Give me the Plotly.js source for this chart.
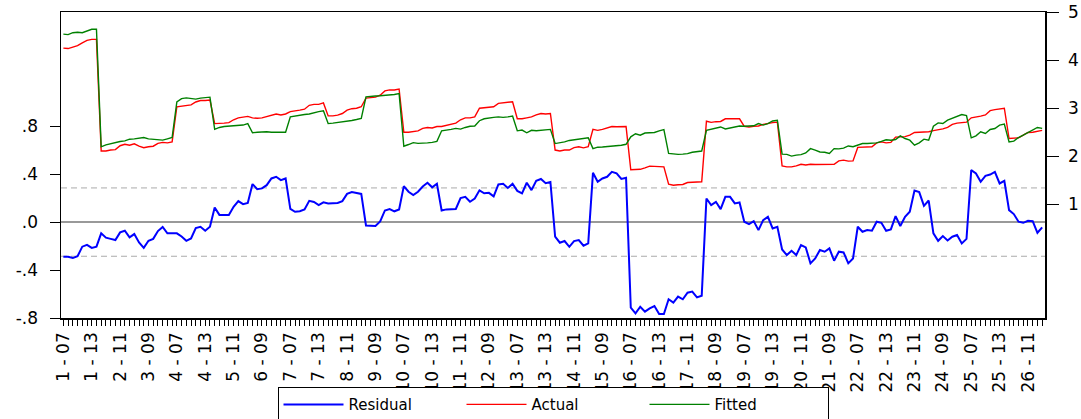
<!DOCTYPE html>
<html>
<head>
<meta charset="utf-8">
<script src="https://cdn.plot.ly/plotly-3.0.1.min.js"></script>
<style>html,body{margin:0;padding:0;background:#fff;}#chart{width:1081px;height:419px;}</style>
</head>
<body>
<div id="chart"></div>
<script>
// Panel: 26 cross-sections x years 2007-2014
const crossSections = [1,2,3,4,5,6,7,8,9,10,11,12,13,14,15,16,17,18,19,20,21,22,23,24,25,26];
const years = ['07','08','09','10','11','12','13','14'];

const tickLabels = ['1 - 07','1 - 13','2 - 11','3 - 09','4 - 07','4 - 13','5 - 11','6 - 09','7 - 07','7 - 13',
  '8 - 11','9 - 09','10 - 07','10 - 13','11 - 11','12 - 09','13 - 07','13 - 13','14 - 11','15 - 09',
  '16 - 07','16 - 13','17 - 11','18 - 09','19 - 07','19 - 13','20 - 11','21 - 09','22 - 07','22 - 13',
  '23 - 11','24 - 09','25 - 07','25 - 13','26 - 11'];

const actual = [
  4.25,4.24,4.27,4.30,4.36,4.41,4.43,4.43,
  2.11,2.11,2.13,2.14,2.22,2.25,2.23,2.26,
  2.21,2.18,2.20,2.21,2.27,2.29,2.28,2.30,
  3.03,3.04,3.05,3.07,3.13,3.16,3.16,3.17,
  2.68,2.68,2.69,2.70,2.76,2.80,2.81,2.83,
  2.80,2.79,2.80,2.83,2.86,2.88,2.86,2.88,
  2.93,2.94,2.96,2.98,3.06,3.08,3.08,3.11,
  2.84,2.84,2.855,2.89,2.96,2.99,3.00,3.03,
  3.21,3.22,3.23,3.27,3.36,3.38,3.38,3.40,
  2.50,2.50,2.51,2.53,2.58,2.60,2.59,2.62,
  2.62,2.64,2.66,2.69,2.76,2.80,2.80,2.82,
  3.00,3.01,3.02,3.03,3.10,3.11,3.12,3.135,
  2.78,2.78,2.80,2.82,2.86,2.89,2.88,2.89,
  2.13,2.11,2.13,2.13,2.18,2.20,2.175,2.20,
  2.56,2.54,2.56,2.585,2.62,2.615,2.61,2.62,
  1.72,1.725,1.73,1.76,1.795,1.79,1.78,1.78,
  1.42,1.40,1.41,1.415,1.455,1.465,1.465,1.47,
  2.73,2.705,2.72,2.725,2.78,2.78,2.77,2.78,
  2.625,2.61,2.625,2.63,2.665,2.69,2.70,2.71,
  1.80,1.78,1.78,1.80,1.835,1.82,1.835,1.83,
  1.83,1.835,1.835,1.835,1.905,1.92,1.90,1.905,
  2.185,2.19,2.195,2.20,2.28,2.30,2.28,2.29,
  2.40,2.40,2.41,2.44,2.495,2.50,2.505,2.51,
  2.535,2.55,2.57,2.60,2.665,2.69,2.70,2.71,
  2.80,2.81,2.835,2.86,2.95,2.97,2.98,3.00,
  2.37,2.375,2.385,2.44,2.495,2.50,2.52,2.54
];

const fitted = [
  4.54,4.53,4.57,4.58,4.57,4.60,4.64,4.64,
  2.197,2.238,2.266,2.287,2.308,2.322,2.356,2.363,
  2.377,2.391,2.363,2.349,2.342,2.336,2.363,2.391,
  3.13,3.20,3.215,3.20,3.19,3.21,3.22,3.23,
  2.56,2.60,2.62,2.63,2.63,2.64,2.65,2.68,
  2.49,2.50,2.51,2.51,2.50,2.50,2.50,2.50,
  2.82,2.84,2.86,2.87,2.88,2.91,2.93,2.945,
  2.68,2.69,2.70,2.715,2.725,2.745,2.765,2.79,
  3.235,3.25,3.255,3.26,3.265,3.275,3.285,3.305,
  2.21,2.245,2.285,2.27,2.27,2.28,2.29,2.31,
  2.53,2.54,2.56,2.58,2.565,2.60,2.625,2.63,
  2.74,2.78,2.80,2.81,2.82,2.81,2.82,2.835,
  2.53,2.545,2.49,2.54,2.53,2.54,2.55,2.56,
  2.265,2.28,2.30,2.33,2.345,2.355,2.37,2.385,
  2.16,2.19,2.195,2.20,2.205,2.21,2.23,2.25,
  2.405,2.47,2.44,2.485,2.495,2.495,2.53,2.555,
  2.06,2.045,2.04,2.045,2.055,2.085,2.10,2.11,
  2.54,2.565,2.58,2.61,2.57,2.595,2.62,2.63,
  2.625,2.625,2.635,2.68,2.65,2.68,2.735,2.75,
  2.045,2.04,2.005,2.025,2.035,2.07,2.16,2.13,
  2.09,2.085,2.06,2.16,2.155,2.17,2.215,2.20,
  2.23,2.265,2.265,2.265,2.28,2.31,2.345,2.335,
  2.35,2.425,2.37,2.335,2.232,2.28,2.356,2.335,
  2.626,2.695,2.681,2.751,2.785,2.82,2.868,2.848,
  2.384,2.426,2.509,2.474,2.557,2.578,2.647,2.668,
  2.30,2.315,2.39,2.44,2.49,2.54,2.60,2.58
];

const residual = [
  -0.289,-0.29,-0.30,-0.285,-0.205,-0.19,-0.215,-0.205,
  -0.094,-0.13,-0.14,-0.15,-0.086,-0.072,-0.128,-0.10,
  -0.17,-0.215,-0.156,-0.14,-0.075,-0.04,-0.094,-0.094,
  -0.094,-0.12,-0.156,-0.136,-0.05,-0.039,-0.072,-0.039,
  0.122,0.06,0.06,0.06,0.128,0.175,0.15,0.16,
  0.317,0.275,0.281,0.308,0.364,0.378,0.35,0.364,
  0.11,0.086,0.09,0.105,0.177,0.168,0.142,0.165,
  0.156,0.155,0.16,0.175,0.235,0.25,0.24,0.235,
  -0.028,-0.033,-0.033,0.005,0.097,0.108,0.09,0.105,
  0.30,0.253,0.225,0.253,0.297,0.328,0.29,0.32,
  0.097,0.106,0.108,0.11,0.20,0.211,0.17,0.197,
  0.265,0.24,0.244,0.215,0.314,0.32,0.285,0.32,
  0.26,0.239,0.328,0.267,0.345,0.36,0.325,0.335,
  -0.122,-0.172,-0.158,-0.206,-0.158,-0.15,-0.197,-0.178,
  0.411,0.336,0.364,0.378,0.419,0.406,0.36,0.37,
  -0.714,-0.761,-0.706,-0.747,-0.72,-0.70,-0.767,-0.767,
  -0.644,-0.672,-0.622,-0.644,-0.589,-0.58,-0.628,-0.614,
  0.197,0.142,0.169,0.108,0.211,0.211,0.156,0.164,
  0.003,-0.017,0.008,-0.067,0.017,0.044,-0.053,-0.039,
  -0.228,-0.275,-0.239,-0.275,-0.192,-0.211,-0.344,-0.303,
  -0.233,-0.247,-0.219,-0.322,-0.247,-0.253,-0.344,-0.303,
  -0.039,-0.081,-0.067,-0.072,0.003,-0.006,-0.072,-0.061,
  0.05,-0.033,0.044,0.086,0.264,0.25,0.135,0.18,
  -0.094,-0.156,-0.117,-0.153,-0.122,-0.108,-0.178,-0.14,
  0.433,0.406,0.336,0.386,0.397,0.419,0.322,0.344,
  0.10,0.067,0.003,-0.006,0.011,0.008,-0.089,-0.044
];

const seBand = 0.285;

// observation labels
const categories = [];
crossSections.forEach(c => years.forEach(y => categories.push(c + ' - ' + y)));
const xIdx = categories.map((_, i) => i);
const tickVals = tickLabels.map(l => categories.indexOf(l));

const fontFam = 'Liberation Sans, Arial, sans-serif';

const traces = [
  {x: xIdx, y: residual, type: 'scatter', mode: 'lines', name: 'Residual', yaxis: 'y',
   line: {color: '#0000FF', width: 2}, text: categories, hoverinfo: 'text+y'},
  {x: xIdx, y: actual, type: 'scatter', mode: 'lines', name: 'Actual', yaxis: 'y2',
   line: {color: '#FF0000', width: 1.4}, text: categories, hoverinfo: 'text+y'},
  {x: xIdx, y: fitted, type: 'scatter', mode: 'lines', name: 'Fitted', yaxis: 'y2',
   line: {color: '#008000', width: 1.4}, text: categories, hoverinfo: 'text+y'}
];

const layout = {
  width: 1081, height: 419,
  margin: {l: 61, r: 36, t: 12, b: 101, autoexpand: false},
  paper_bgcolor: '#ffffff', plot_bgcolor: '#ffffff',
  font: {family: fontFam, color: '#000000', size: 15},
  showlegend: true,
  legend: {orientation: 'h', x: 0.5, xanchor: 'center', y: -0.226, yanchor: 'top',
    bordercolor: '#000000', borderwidth: 1, font: {size: 15, family: 'DejaVu Sans, sans-serif'},
    entrywidth: 108, itemwidth: 60, traceorder: 'normal', tracegroupgap: 0},
  xaxis: {
    type: 'linear', range: [-0.5, 207.6], showgrid: false, zeroline: false, automargin: false,
    showline: true, linecolor: '#000000', linewidth: 1.5, mirror: true,
    tickmode: 'array', tickvals: tickVals, ticktext: tickLabels,
    ticks: 'outside', ticklen: 6, tickcolor: '#000000', tickwidth: 1,
    tickangle: -90, tickfont: {size: 17, family: 'DejaVu Sans, sans-serif'},
    minor: {dtick: 1, tick0: 0, ticks: 'outside', ticklen: 6, tickcolor: '#000000', tickwidth: 1, showgrid: false}
  },
  yaxis: {
    range: [-0.8, 1.7525], showgrid: false, zeroline: false, automargin: false,
    showline: true, linecolor: '#000000', linewidth: 1.5,
    tickmode: 'array', tickvals: [-0.8, -0.4, 0, 0.4, 0.8], ticktext: ['-.8', '-.4', '.0', '.4', '.8'],
    ticks: 'outside', ticklen: 10, tickcolor: '#000000', ticklabelstandoff: 8,
    tickfont: {size: 17, family: 'DejaVu Sans, sans-serif'}
  },
  yaxis2: {
    overlaying: 'y', side: 'right', range: [-1.361, 5], showgrid: false, zeroline: false, automargin: false,
    showline: true, linecolor: '#000000', linewidth: 1.5,
    tickmode: 'array', tickvals: [1, 2, 3, 4, 5], ticktext: ['1', '2', '3', '4', '5'],
    ticks: 'outside', ticklen: 12, tickcolor: '#000000', ticklabelstandoff: 6,
    tickfont: {size: 17, family: 'DejaVu Sans, sans-serif'}
  },
  shapes: [
    {type: 'line', xref: 'paper', x0: 0, x1: 1, yref: 'y', y0: 0, y1: 0,
     line: {color: '#999999', width: 2}, layer: 'below'},
    {type: 'line', xref: 'paper', x0: 0, x1: 1, yref: 'y', y0: seBand, y1: seBand,
     line: {color: '#aaaaaa', width: 1, dash: '6px,4px'}, layer: 'below'},
    {type: 'line', xref: 'paper', x0: 0, x1: 1, yref: 'y', y0: -seBand, y1: -seBand,
     line: {color: '#aaaaaa', width: 1, dash: '6px,4px'}, layer: 'below'}
  ]
};

Plotly.newPlot('chart', traces, layout, {staticPlot: true, displayModeBar: false});
</script>
</body>
</html>
